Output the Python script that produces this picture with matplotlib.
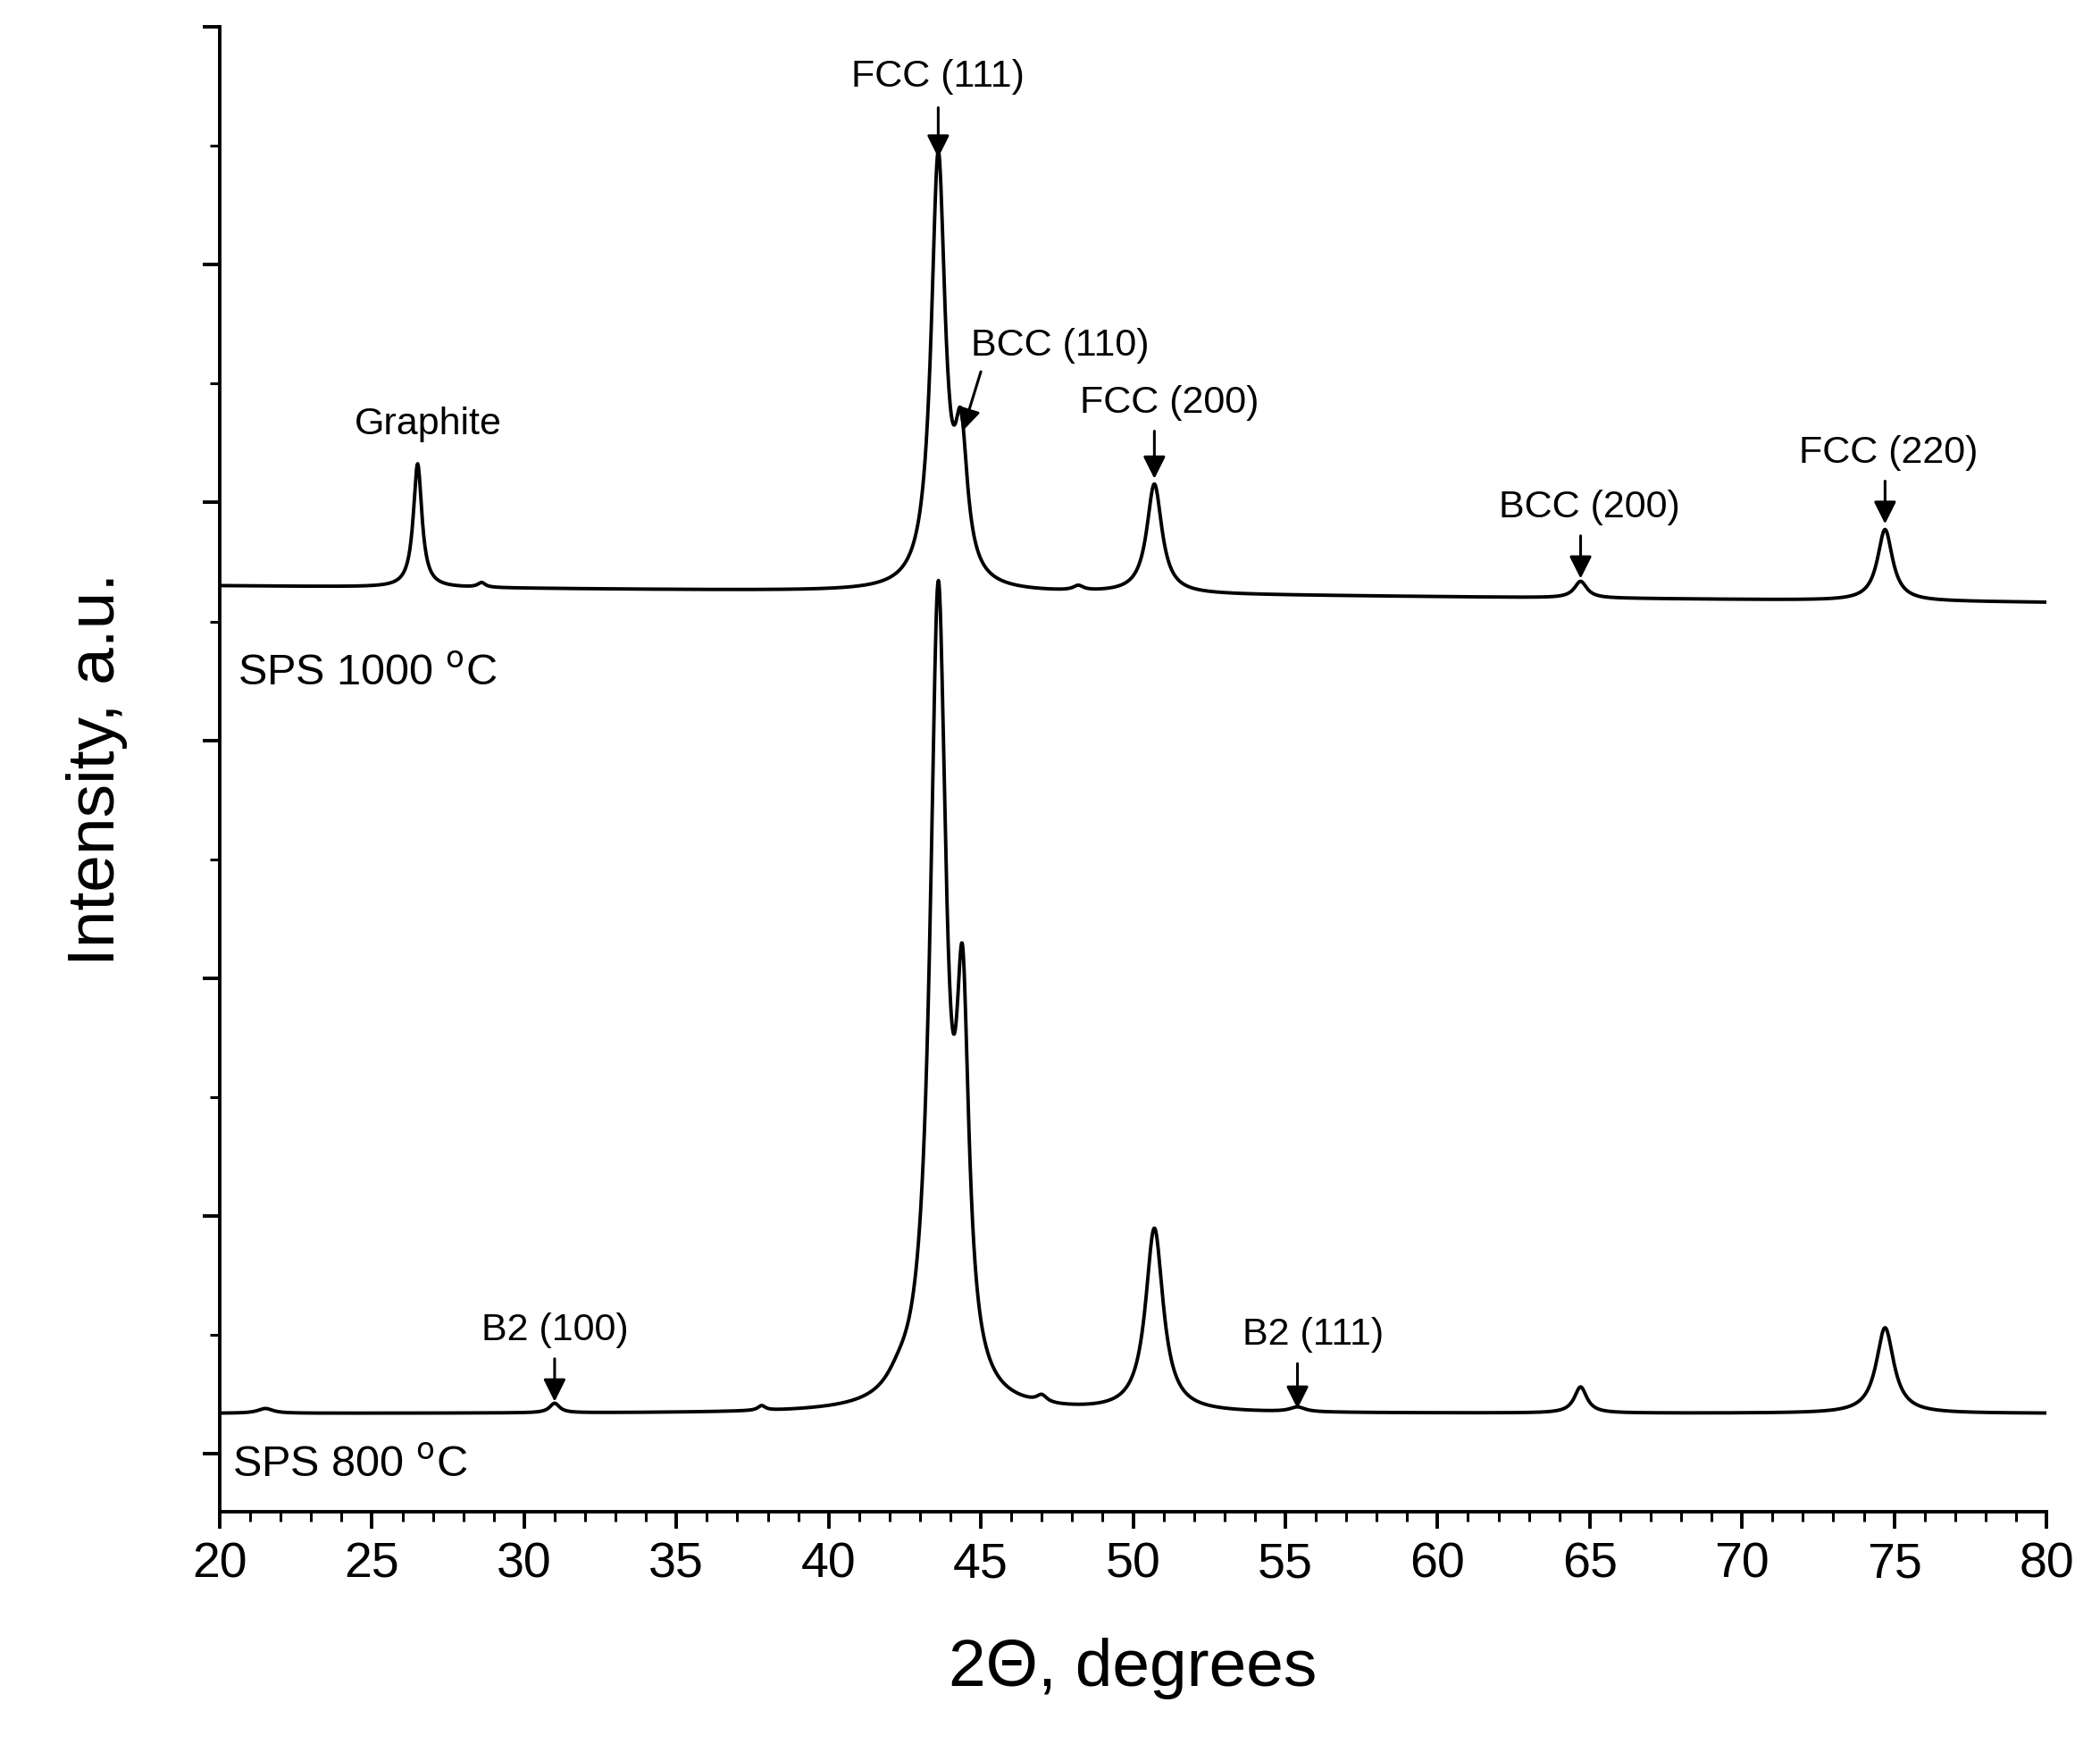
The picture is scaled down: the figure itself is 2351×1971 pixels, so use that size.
import numpy as np
import matplotlib
matplotlib.use("Agg")
import matplotlib.pyplot as plt
from matplotlib.ticker import MultipleLocator

plt.rcParams['font.family'] = ['Liberation Sans', 'DejaVu Sans']

# Peak parameters (position, height above baseline, half width)
pos_800 = [21.5, 31.0, 37.8, 42.3, 43.6, 44.4, 47.0, 50.7, 55.4, 64.7, 74.7]
amp_800 = [0.02, 0.04, 0.02, 0.05, 3.36, 1.5, 0.03, 0.77, 0.02, 0.11, 0.36]
wid_800 = [0.3, 0.2, 0.15, 0.5, 0.32, 0.25, 0.2, 0.35, 0.3, 0.25, 0.35]
base_800 = [0.17, 0.17]

pos_1000 = [26.5, 28.6, 43.6, 44.35, 48.2, 50.7, 64.7, 74.7]
amp_1000 = [0.52, 0.02, 1.8, 0.55, 0.02, 0.46, 0.07, 0.30]
wid_1000 = [0.17, 0.15, 0.28, 0.25, 0.2, 0.3, 0.25, 0.3]
base_1000 = [3.65, 3.58]

x = np.linspace(20, 80, 3000)

def profile(pos, amp, wid, base):
    y = np.linspace(base[0], base[1], x.size)
    for p, a, w in zip(pos, amp, wid):
        y = y + a / (1 + ((x - p) / w) ** 2)
    return y

fig = plt.figure(figsize=(23.51, 19.71), dpi=100)
ax = fig.add_axes([246/2351, 1 - 1692/1971, (2291-246)/2351, (1692-30)/1971])
ax.plot(x, profile(pos_800, amp_800, wid_800, base_800), color='black', lw=2.8)
ax.plot(x, profile(pos_1000, amp_1000, wid_1000, base_1000), color='black', lw=2.8)

ax.set_xlim(20, 80)
ax.set_ylim(-0.243, 6.0)
ax.spines['top'].set_visible(False)
ax.spines['right'].set_visible(False)
for s in ax.spines.values():
    s.set_linewidth(2.8)
ax.xaxis.set_major_locator(MultipleLocator(5))
ax.xaxis.set_minor_locator(MultipleLocator(1))
ax.yaxis.set_major_locator(MultipleLocator(1))
ax.yaxis.set_minor_locator(MultipleLocator(0.5))
ax.set_yticklabels([])
ax.tick_params(axis='both', which='major', length=14, width=2.8, direction='out', labelsize=40, pad=10)
ax.tick_params(axis='both', which='minor', length=8, width=2.2, direction='out')
ax.set_xlabel('2Θ, degrees', fontsize=54, labelpad=40)
ax.set_ylabel('Intensity, a.u.', fontsize=54, labelpad=50)

fs = 31
# label, text x, text y, arrow tip x, tip y, arrow tail x, tail y
ann = [
    ('FCC (111)', 43.6, 5.79, 43.6, 5.45, 43.6, 5.66),
    ('BCC (110)', 47.6, 4.66, 44.4, 4.30, 45.0, 4.55),
    ('FCC (200)', 51.2, 4.42, 50.7, 4.10, 50.7, 4.30),
    ('BCC (200)', 65.0, 3.98, 64.7, 3.68, 64.7, 3.86),
    ('FCC (220)', 74.8, 4.21, 74.7, 3.91, 74.7, 4.09),
    ('B2 (100)', 31.0, 0.52, 31.0, 0.22, 31.0, 0.40),
    ('B2 (111)', 55.9, 0.50, 55.4, 0.19, 55.4, 0.38),
]
for t, tx, ty, xp, yp, xt, yt in ann:
    ax.annotate('', xy=(xp, yp), xytext=(xt, yt),
                arrowprops=dict(arrowstyle='-|>', color='black', lw=2.2, mutation_scale=38,
                                shrinkA=0, shrinkB=0))
    ax.text(tx, ty, t, fontsize=fs, ha='center', va='center')
ax.text(26.85, 4.33, 'Graphite', fontsize=fs, ha='center', va='center')
ax.text(20.6, 3.28, 'SPS 1000 $^{\\rm o}$C', fontsize=35, ha='left', va='center')
ax.text(20.4, -0.05, 'SPS 800 $^{\\rm o}$C', fontsize=35, ha='left', va='center')

fig.savefig('out.png', dpi=100)
